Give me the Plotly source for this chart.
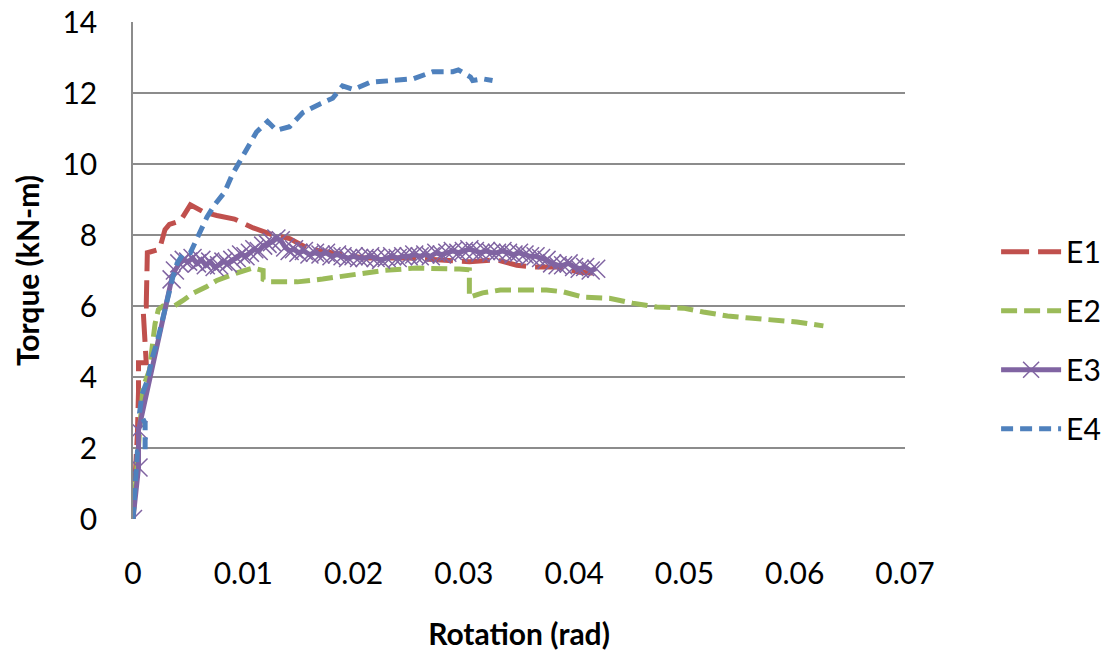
import plotly.graph_objects as go

# ---------------- data (rotation in rad, torque in kN-m) ----------------
e1_x = [0, 0.0002, 0.0004, 0.0005, 0.0005, 0.0012, 0.0010, 0.0009, 0.0009, 0.0012,
        0.0013, 0.0013, 0.0024, 0.0029, 0.0033, 0.0043, 0.0052, 0.0064, 0.0076, 0.0092,
        0.0109, 0.0127, 0.0142, 0.0160, 0.0180, 0.0210, 0.0250, 0.0285, 0.0305, 0.0330,
        0.0348, 0.0363, 0.0385, 0.0405, 0.0417]
e1_y = [0, 1.0, 2.4, 3.6, 4.4, 4.4, 5.3, 5.6, 6.0, 6.0,
        6.8, 7.5, 7.6, 8.15, 8.3, 8.4, 8.85, 8.65, 8.55, 8.45,
        8.2, 8.0, 7.9, 7.6, 7.5, 7.35, 7.35, 7.3, 7.25, 7.3,
        7.15, 7.1, 7.1, 6.95, 6.93]

e2_x = [0, 0.0004, 0.0007, 0.0008, 0.0009, 0.0015, 0.0016, 0.0018, 0.0020, 0.0023,
        0.0027, 0.0036, 0.0045, 0.0054, 0.0067, 0.0076, 0.0094, 0.0109, 0.0118, 0.0118,
        0.0124, 0.0130, 0.0149, 0.0172, 0.0200, 0.0227, 0.0257, 0.0287, 0.0296, 0.0305,
        0.0305, 0.0317, 0.0333, 0.0357, 0.0375, 0.0390, 0.0408, 0.0432, 0.0453, 0.0475,
        0.0499, 0.0517, 0.0539, 0.0559, 0.0580, 0.0602, 0.0626]
e2_y = [0, 1.5, 2.8, 3.3, 3.7, 4.2, 4.6, 5.0, 5.5, 5.9,
        6.0, 5.97, 6.15, 6.35, 6.55, 6.72, 6.93, 7.07, 7.0, 6.75,
        6.68, 6.68, 6.68, 6.76, 6.87, 7.0, 7.07, 7.07, 7.04, 7.02,
        6.25, 6.37, 6.45, 6.45, 6.45, 6.4, 6.25, 6.22, 6.08, 5.97,
        5.94, 5.83, 5.72, 5.66, 5.6, 5.55, 5.44]

e3_x = [0, 0.0005, 0.0005, 0.0035, 0.0038, 0.0042, 0.0046, 0.0050, 0.0054, 0.0058,
        0.0062, 0.0066, 0.0070, 0.0074, 0.0078, 0.0082, 0.0086, 0.0090, 0.0094, 0.0098,
        0.0102, 0.0106, 0.0110, 0.0114, 0.0118, 0.0122, 0.0126, 0.0130, 0.0134, 0.0138,
        0.0142, 0.0146, 0.0150, 0.0155, 0.0160, 0.0165, 0.0170, 0.0175, 0.0180, 0.0185,
        0.0190, 0.0195, 0.0200, 0.0205, 0.0210, 0.0215, 0.0220, 0.0225, 0.0230, 0.0235,
        0.0240, 0.0245, 0.0250, 0.0255, 0.0260, 0.0265, 0.0270, 0.0275, 0.0280, 0.0285,
        0.0290, 0.0295, 0.0300, 0.0305, 0.0310, 0.0315, 0.0320, 0.0325, 0.0330, 0.0335,
        0.0340, 0.0345, 0.0350, 0.0355, 0.0360, 0.0365, 0.0370, 0.0375, 0.0380, 0.0385,
        0.0390, 0.0395, 0.0400, 0.0405, 0.0410, 0.0415, 0.0420]
e3_y = [0, 1.45, 2.5, 6.75, 7.0, 7.2, 7.3, 7.25, 7.35, 7.2,
        7.3, 7.15, 7.25, 7.1, 7.15, 7.25, 7.2, 7.3, 7.35, 7.45,
        7.4, 7.5, 7.6, 7.55, 7.7, 7.75, 7.8, 7.9, 7.85, 7.65,
        7.55, 7.6, 7.5, 7.55, 7.45, 7.5, 7.45, 7.5, 7.4, 7.45,
        7.4, 7.35, 7.4, 7.35, 7.35, 7.4, 7.35, 7.3, 7.35, 7.4,
        7.35, 7.4, 7.4, 7.45, 7.4, 7.45, 7.4, 7.5, 7.45, 7.5,
        7.55, 7.5, 7.55, 7.6, 7.55, 7.5, 7.55, 7.5, 7.5, 7.55,
        7.5, 7.45, 7.5, 7.45, 7.4, 7.4, 7.35, 7.3, 7.2, 7.15,
        7.15, 7.2, 7.1, 7.05, 7.1, 7.0, 7.05]

e4_x = [0, 0.0002, 0.0004, 0.0011, 0.0011, 0.0011, 0.0006, 0.0008, 0.0013, 0.0017,
        0.0022, 0.0027, 0.0032, 0.0036, 0.0040, 0.0045, 0.0052, 0.0059, 0.0067, 0.0074,
        0.0083, 0.0090, 0.0097, 0.0103, 0.0112, 0.0122, 0.0130, 0.0142, 0.0154, 0.0170,
        0.0181, 0.0190, 0.0200, 0.0215, 0.0236, 0.0254, 0.0272, 0.0290, 0.0295, 0.0306,
        0.0308, 0.0317, 0.0326]
e4_y = [0, 1.0, 1.9, 1.95, 2.3, 2.7, 3.0, 3.5, 3.9, 4.5,
        5.0, 5.7, 6.3, 6.8, 7.2, 7.45, 7.5, 7.95, 8.5, 8.85,
        9.2, 9.7, 10.1, 10.4, 10.9, 11.2, 10.95, 11.05, 11.45, 11.7,
        11.85, 12.2, 12.1, 12.3, 12.35, 12.4, 12.6, 12.6, 12.65, 12.45,
        12.35, 12.4, 12.35]

x_ticks = [0, 0.01, 0.02, 0.03, 0.04, 0.05, 0.06, 0.07]
x_tick_labels = ["0", "0.01", "0.02", "0.03", "0.04", "0.05", "0.06", "0.07"]
y_ticks = [0, 2, 4, 6, 8, 10, 12, 14]

FONT = "Lato, Carlito, Calibri, sans-serif"
FS = 30
LW = 5

fig = go.Figure()
fig.add_trace(go.Scatter(x=e1_x, y=e1_y, name="E1", mode="lines", legendgroup="g1",
                         line=dict(color="#C0504D", width=LW, dash="28px,9px")))
fig.add_trace(go.Scatter(x=e2_x, y=e2_y, name="E2", mode="lines", legendgroup="g2",
                         line=dict(color="#9BBB59", width=LW, dash="16px,7px")))
fig.add_trace(go.Scatter(x=e3_x, y=e3_y, name="E3", mode="lines+markers", legendgroup="g3",
                         line=dict(color="#8064A2", width=LW),
                         marker=dict(symbol="x-thin-open", size=18, color="#8064A2",
                                     line=dict(color="#8064A2", width=1.5))))
fig.add_trace(go.Scatter(x=e4_x, y=e4_y, name="E4", mode="lines", legendgroup="g4",
                         line=dict(color="#4F81BD", width=LW, dash="12px,7px")))

fig.update_layout(
    width=1118, height=656,
    margin=dict(l=133, r=213, t=22, b=137, autoexpand=False),
    paper_bgcolor="white", plot_bgcolor="white",
    font=dict(family=FONT, size=FS, color="black"),
    legend=dict(x=1.118, xanchor="left", y=0.59, yanchor="top",
                font=dict(size=FS), tracegroupgap=17, traceorder="grouped",
                itemwidth=60, bgcolor="rgba(0,0,0,0)"),
    xaxis=dict(range=[0, 0.07], tickvals=x_ticks, ticktext=x_tick_labels,
               showgrid=False, zeroline=False, showline=False, ticks="",
               automargin=False,
               ticklabelstandoff=34, tickfont=dict(size=FS),
               title=dict(text="<b>Rotation (rad)</b>", font=dict(size=FS), standoff=34)),
    yaxis=dict(range=[0, 14], tickvals=y_ticks, showgrid=True, gridcolor="#8C8C8C",
               gridwidth=1.5, zeroline=False, showline=True, linecolor="#8C8C8C",
               linewidth=1.5, ticks="", ticklabelstandoff=28, tickfont=dict(size=FS),
               automargin=False,
               title=dict(text="<b>Torque (kN-m)</b>", font=dict(size=FS), standoff=14)),
)

fig.write_html("out.html")
